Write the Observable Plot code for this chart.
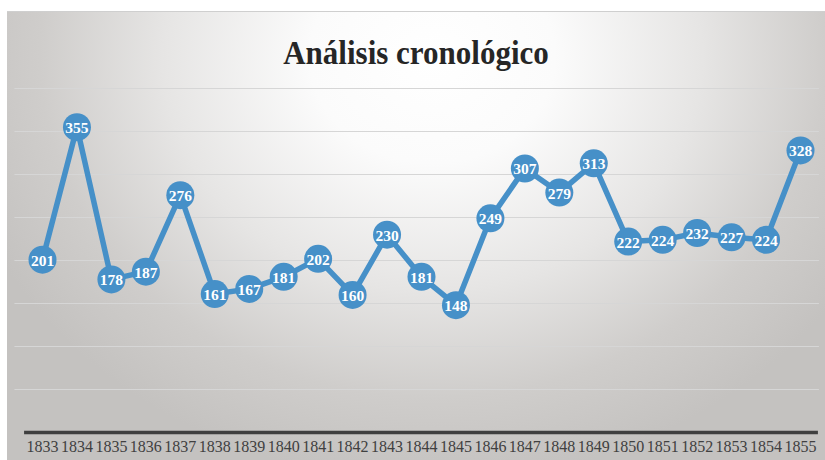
<!DOCTYPE html>
<html>
<head>
<meta charset="utf-8">
<script src="https://cdn.jsdelivr.net/npm/d3@7"></script>
<script src="https://cdn.jsdelivr.net/npm/@observablehq/plot@0.6"></script>
<style>
  html, body { margin: 0; padding: 0; background: #ffffff; }
  #wrap { position: relative; width: 825px; height: 460px; overflow: hidden; }
  #bg {
    position: absolute; left: 7px; top: 11px; right: 0; bottom: 0;
    border-top: 1.5px solid #cfcfcf;
    background: radial-gradient(ellipse 60% 95% at 52% 10%, #ffffff 0%, #fbfbfb 25%, #e6e5e4 55%, #cfcdcb 80%, #c4c2c0 100%);
  }
  #title {
    position: absolute; left: 7px; right: 0; top: 33px; text-align: center;
    font-family: "Liberation Serif", "Times New Roman", serif; font-weight: bold;
    font-size: 31px; line-height: 40px; color: #262626;
    transform: scaleY(1.08);
  }
  #chart { position: absolute; left: 0; top: 0; }
  #chart svg { background: transparent; overflow: visible; }
</style>
</head>
<body>
<div id="wrap">
  <div id="bg"></div>
  <div id="title">Análisis cronológico</div>
  <div id="chart"></div>
</div>
<script>
const years = [1833,1834,1835,1836,1837,1838,1839,1840,1841,1842,1843,1844,1845,1846,1847,1848,1849,1850,1851,1852,1853,1854,1855];
const values = [201,355,178,187,276,161,167,181,202,160,230,181,148,249,307,279,313,222,224,232,227,224,328];
const gridValues = [50,100,150,200,250,300,350,400];
const lineColor = "#4690c8";

const data = years.map((y, i) => ({year: y, value: values[i]}));

const chart = Plot.plot({
  width: 825,
  height: 460,
  marginLeft: 42,
  marginRight: 25,
  marginTop: 88,
  marginBottom: 28,
  style: {background: "transparent"},
  x: {domain: [years[0], years[years.length - 1]], axis: null},
  y: {domain: [0, 400], axis: null},
  marks: [
    Plot.ruleY(gridValues, {x1: years[0] - 0.8, x2: years[years.length - 1] + 0.55, stroke: "#d6d6d6", strokeWidth: 1}),
    Plot.ruleY([0], {x1: years[0] - 0.52, x2: years[years.length - 1] + 0.52, stroke: "#3f3f3f", strokeWidth: 3.5}),
    Plot.axisX({
      ticks: years, tickSize: 0, tickPadding: 8, tickFormat: d => String(d), label: null,
      fontFamily: "Liberation Serif", fontSize: 16, fill: "#404040", anchor: "bottom"
    }),
    Plot.line(data, {x: "year", y: "value", stroke: lineColor, strokeWidth: 5.5, strokeLinejoin: "round"}),
    Plot.dot(data, {x: "year", y: "value", r: 14, fill: lineColor, stroke: "none"}),
    Plot.text(data, {x: "year", y: "value", text: d => String(d.value), fill: "white",
      fontFamily: "Liberation Serif", fontWeight: "bold", fontSize: 15.5, dy: 1})
  ]
});
document.getElementById("chart").appendChild(chart);
</script>
</body>
</html>
